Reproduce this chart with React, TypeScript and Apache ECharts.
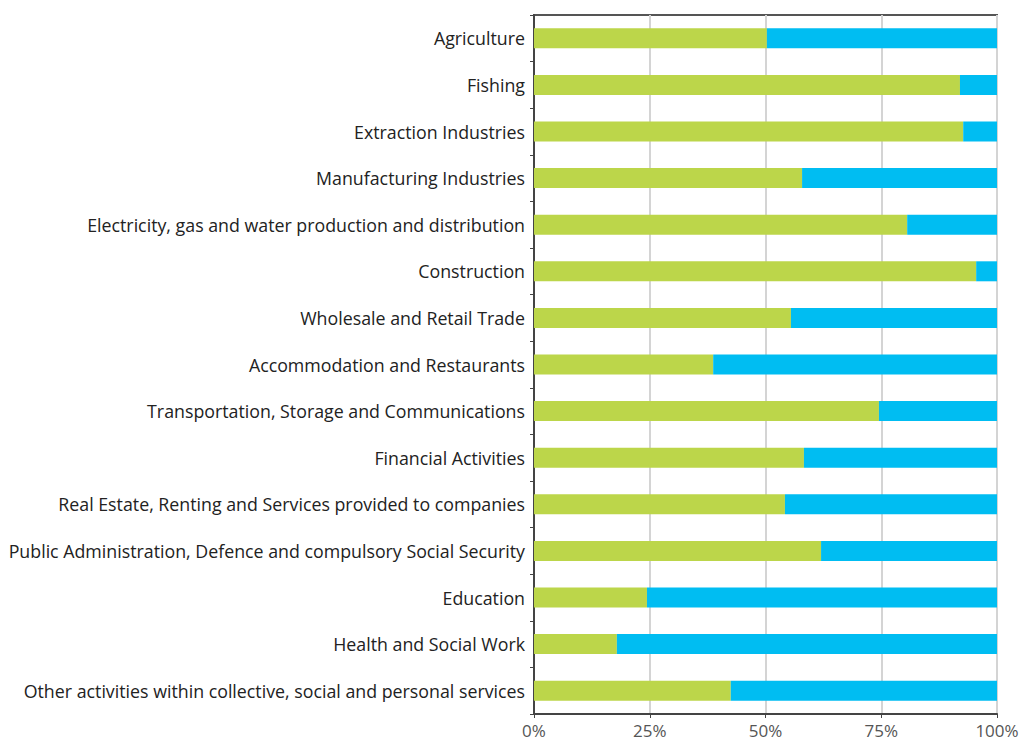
import React, { useEffect, useRef } from "react";
import * as echarts from "echarts";

const categories = [
  "Agriculture",
  "Fishing",
  "Extraction Industries",
  "Manufacturing Industries",
  "Electricity, gas and water production and distribution",
  "Construction",
  "Wholesale and Retail Trade",
  "Accommodation and Restaurants",
  "Transportation, Storage and Communications",
  "Financial Activities",
  "Real Estate, Renting and Services provided to companies",
  "Public Administration, Defence and compulsory Social Security",
  "Education",
  "Health and Social Work",
  "Other activities within collective, social and personal services",
];

const greenValues = [50.3, 92.0, 92.7, 57.9, 80.6, 95.5, 55.5, 38.7, 74.5, 58.3, 54.2, 62.0, 24.4, 17.9, 42.5];
const blueValues = [49.7, 8.0, 7.3, 42.1, 19.4, 4.5, 44.5, 61.3, 25.5, 41.7, 45.8, 38.0, 75.6, 82.1, 57.5];
const xTicks = [0, 25, 50, 75, 100];

export default function App() {
  const ref = useRef<HTMLDivElement>(null);
  useEffect(() => {
    if (!ref.current) return;
    const chart = echarts.init(ref.current, undefined, { renderer: "svg" });
    chart.setOption({
      animation: false,
      textStyle: { fontFamily: "Open Sans" },
      grid: {
        left: 534,
        right: 30,
        top: 15,
        bottom: 29,
        show: true,
        borderColor: "#555",
        borderWidth: 2,
        backgroundColor: "transparent",
      },
      xAxis: {
        type: "value",
        min: xTicks[0],
        max: xTicks[xTicks.length - 1],
        interval: 25,
        axisLine: { show: true, lineStyle: { color: "#444", width: 2 } },
        axisTick: { show: true, length: 4, lineStyle: { color: "#444" } },
        axisLabel: {
          formatter: "{value}%",
          color: "#555",
          fontSize: 17,
          margin: 8,
          fontFamily: "Open Sans",
        },
        splitLine: { show: true, lineStyle: { color: "#d4d4d4", width: 2 } },
      },
      yAxis: {
        type: "category",
        data: categories,
        inverse: true,
        axisLine: { show: true, lineStyle: { color: "#444", width: 2 } },
        axisTick: { show: true, length: 4, lineStyle: { color: "#444" } },
        axisLabel: {
          color: "#222",
          fontSize: 17.8,
          margin: 9,
          padding: [5, 0, 0, 0],
          fontFamily: "Open Sans",
        },
      },
      series: [
        {
          type: "bar",
          stack: "total",
          data: greenValues,
          barWidth: 20,
          itemStyle: { color: "#bcd64a" },
        },
        {
          type: "bar",
          stack: "total",
          data: blueValues,
          barWidth: 20,
          itemStyle: { color: "#00bdf2" },
        },
      ],
    });
    return () => chart.dispose();
  }, []);
  return <div ref={ref} style={{ width: 1027, height: 743, position: "absolute", left: 0, top: 0 }} />;
}
